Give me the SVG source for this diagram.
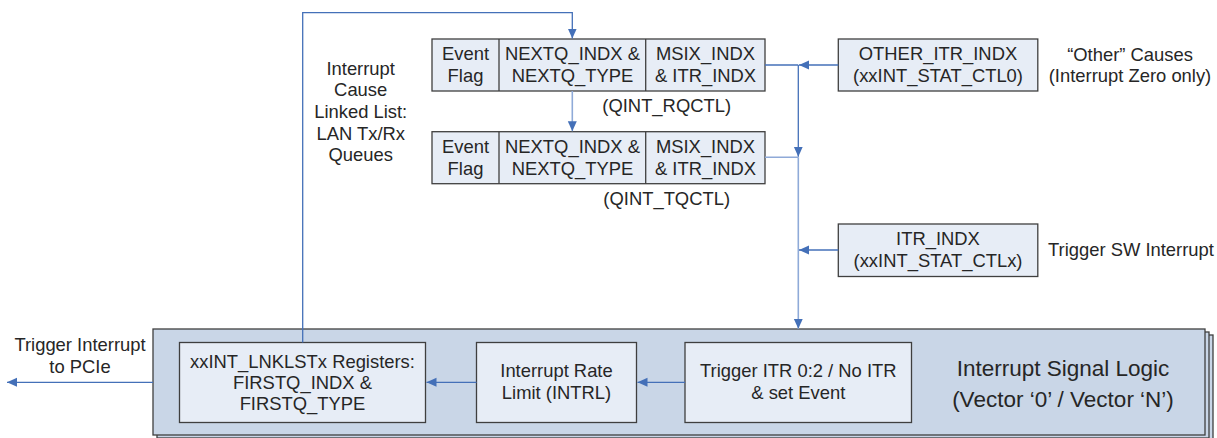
<svg xmlns="http://www.w3.org/2000/svg" width="1217" height="438" viewBox="0 0 1217 438">
<style>
  text { font-family: "Liberation Sans", Arial, sans-serif; font-size: 18.4px; fill: #262626; text-anchor: middle; }
  .box { fill: #e7edf6; stroke: #3f3f3f; stroke-width: 1.3; }
  .big { fill: #c9d6e7; stroke: #3f3f3f; stroke-width: 1.3; }
  .dk { fill: none; stroke: #4470b8; stroke-width: 1.3; }
  .lt { fill: none; stroke: #8faad8; stroke-width: 1.6; }
  .title { font-size: 22.5px; }
  .left { text-anchor: start; }
</style>
<defs>
  <marker id="ah" markerUnits="userSpaceOnUse" markerWidth="11" markerHeight="10" refX="10" refY="4.5" orient="auto">
    <path d="M0,0 L10,4.5 L0,9 z" fill="#4470b8"/>
  </marker>
</defs>

<!-- Interrupt Signal Logic container (stacked) -->
<g id="signal-logic">
  <rect class="big" x="161" y="335" width="1052" height="106"/>
  <rect class="big" x="157" y="332" width="1052" height="106"/>
  <rect class="big" x="153" y="329" width="1052" height="106"/>
  <text class="title" x="1063" y="376">Interrupt Signal Logic</text>
  <text class="title" x="1063" y="407">(Vector ‘0’ / Vector ‘N’)</text>
</g>

<g id="lnklst">
  <rect class="box" x="179.5" y="342.5" width="246" height="80"/>
  <text x="302.5" y="368">xxINT_LNKLSTx Registers:</text>
  <text x="302.5" y="389">FIRSTQ_INDX &amp;</text>
  <text x="302.5" y="410">FIRSTQ_TYPE</text>
</g>

<g id="intrl">
  <rect class="box" x="476.5" y="342.5" width="160" height="80"/>
  <text x="556.5" y="377">Interrupt Rate</text>
  <text x="556.5" y="398.5">Limit (INTRL)</text>
</g>

<g id="trigger-itr">
  <rect class="box" x="685" y="342.5" width="226.5" height="80"/>
  <text x="798.3" y="377">Trigger ITR 0:2 / No ITR</text>
  <text x="798.3" y="398.5">&amp; set Event</text>
</g>

<g id="rqctl">
  <rect class="box" x="432" y="39" width="333" height="52"/>
  <line x1="499" y1="39" x2="499" y2="91" stroke="#3f3f3f" stroke-width="1.3"/>
  <line x1="645.7" y1="39" x2="645.7" y2="91" stroke="#3f3f3f" stroke-width="1.3"/>
  <text x="465.5" y="60">Event</text>
  <text x="465.5" y="82">Flag</text>
  <text x="572.5" y="60">NEXTQ_INDX &amp;</text>
  <text x="572.5" y="82">NEXTQ_TYPE</text>
  <text x="705.5" y="60">MSIX_INDX</text>
  <text x="705.5" y="82">&amp; ITR_INDX</text>
  <text x="666.7" y="112">(QINT_RQCTL)</text>
</g>

<g id="tqctl">
  <rect class="box" x="432" y="131.7" width="333" height="52"/>
  <line x1="499" y1="131.7" x2="499" y2="183.7" stroke="#3f3f3f" stroke-width="1.3"/>
  <line x1="645.7" y1="131.7" x2="645.7" y2="183.7" stroke="#3f3f3f" stroke-width="1.3"/>
  <text x="465.5" y="152.7">Event</text>
  <text x="465.5" y="174.7">Flag</text>
  <text x="572.5" y="152.7">NEXTQ_INDX &amp;</text>
  <text x="572.5" y="174.7">NEXTQ_TYPE</text>
  <text x="705.5" y="152.7">MSIX_INDX</text>
  <text x="705.5" y="174.7">&amp; ITR_INDX</text>
  <text x="666.7" y="204.5">(QINT_TQCTL)</text>
</g>

<g id="other-itr">
  <rect class="box" x="838.3" y="39" width="199.5" height="52"/>
  <text x="938" y="60">OTHER_ITR_INDX</text>
  <text x="938" y="82">(xxINT_STAT_CTL0)</text>
</g>

<g id="itr-indx">
  <rect class="box" x="838.3" y="224" width="199.5" height="52.5"/>
  <text x="938" y="245">ITR_INDX</text>
  <text x="938" y="267">(xxINT_STAT_CTLx)</text>
</g>

<g id="labels">
  <text x="360.7" y="74.5">Interrupt</text>
  <text x="360.7" y="96">Cause</text>
  <text x="360.7" y="118">Linked List:</text>
  <text x="360.7" y="139.5">LAN Tx/Rx</text>
  <text x="360.7" y="161">Queues</text>
  <text x="1130" y="60.5">“Other” Causes</text>
  <text x="1130" y="82">(Interrupt Zero only)</text>
  <text class="left" x="1048" y="255.5">Trigger SW Interrupt</text>
  <text x="80" y="351">Trigger Interrupt</text>
  <text x="80" y="373">to PCIe</text>
</g>

<g id="connectors">
  <!-- linked list loop -->
  <polyline class="dk" points="302.7,342.5 302.7,12.7 572.3,12.7 572.3,38.5" marker-end="url(#ah)"/>
  <line class="lt" x1="572.3" y1="91" x2="572.3" y2="131.2" marker-end="url(#ah)"/>
  <!-- cause bus -->
  <line class="dk" x1="765" y1="65" x2="798.3" y2="65"/>
  <line class="dk" x1="838.3" y1="65" x2="799" y2="65" marker-end="url(#ah)"/>
  <line class="dk" x1="798.3" y1="65" x2="798.3" y2="156.7" marker-end="url(#ah)"/>
  <line class="lt" x1="765" y1="157.3" x2="798.3" y2="157.3"/>
  <line class="lt" x1="798.3" y1="157.3" x2="798.3" y2="328.8" marker-end="url(#ah)"/>
  <line class="dk" x1="838.3" y1="250" x2="799" y2="250" marker-end="url(#ah)"/>
  <!-- bottom chain -->
  <line class="dk" x1="685" y1="382.3" x2="637.5" y2="382.3" marker-end="url(#ah)"/>
  <line class="dk" x1="476.5" y1="382.3" x2="426.5" y2="382.3" marker-end="url(#ah)"/>
  <line class="dk" x1="153" y1="382.3" x2="7" y2="382.3" marker-end="url(#ah)"/>
</g>
</svg>
